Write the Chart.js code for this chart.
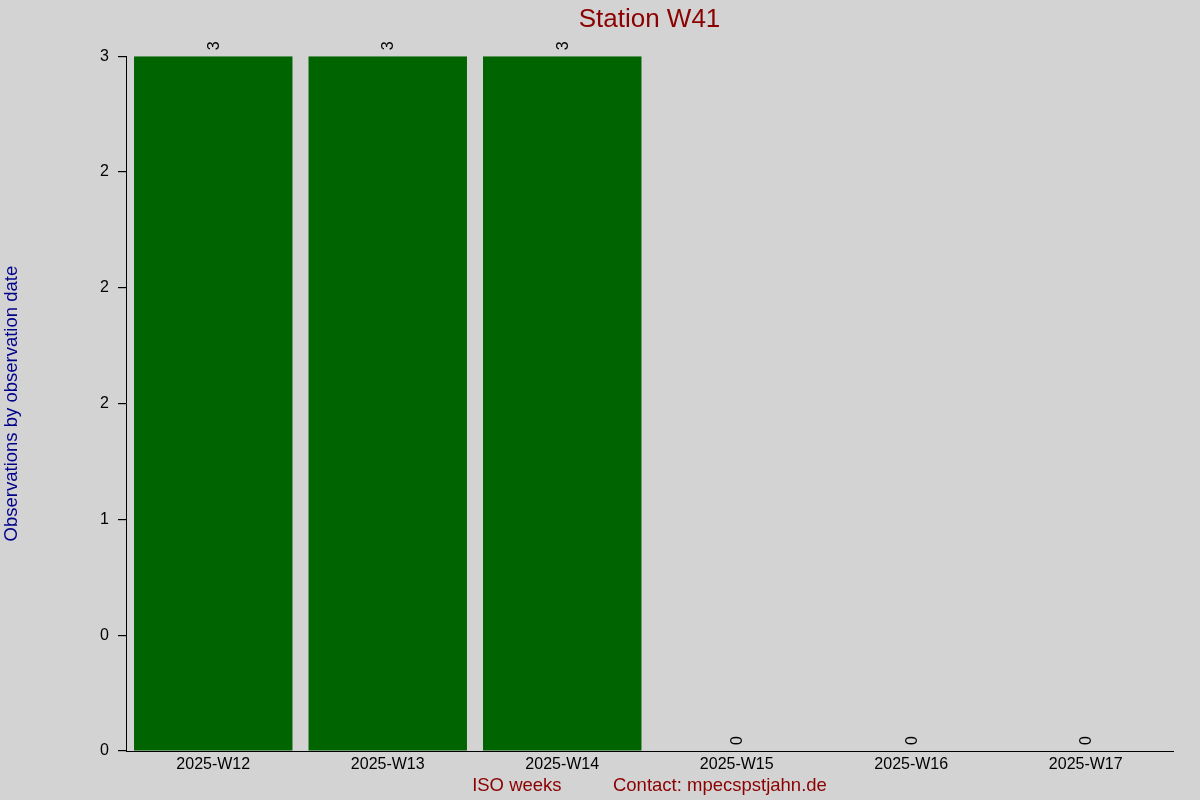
<!DOCTYPE html>
<html>
<head>
<meta charset="utf-8">
<script src="https://cdn.jsdelivr.net/npm/chart.js@4/dist/chart.umd.min.js"></script>
<style>
  body { margin: 0; background: #d3d3d3; }
  #wrap { width: 1200px; height: 800px; }
</style>
</head>
<body>
<div id="wrap"><canvas id="chart" width="1200" height="800"></canvas></div>
<script>
// data
const weeks = ['2025-W12', '2025-W13', '2025-W14', '2025-W15', '2025-W16', '2025-W17'];
const observations = [3, 3, 3, 0, 0, 0];
const yTickLabels = ['0', '0', '1', '2', '2', '2', '3'];

const FONT = 'Liberation Sans, Arial, sans-serif';

// value labels written vertically above each bar
const barLabels = {
    id: 'barLabels',
    afterDatasetsDraw(chart) {
        const ctx = chart.ctx;
        const meta = chart.getDatasetMeta(0);
        ctx.save();
        ctx.font = '16px ' + FONT;
        ctx.fillStyle = '#000';
        ctx.textAlign = 'left';
        ctx.textBaseline = 'middle';
        meta.data.forEach((bar, i) => {
            ctx.save();
            ctx.translate(bar.x + 1, bar.y - 6);
            ctx.rotate(-Math.PI / 2);
            ctx.fillText(String(observations[i]), 0, 0);
            ctx.restore();
        });
        ctx.restore();
    }
};

const chart = document.querySelector('#chart').getContext('2d');

new Chart(chart, {
    type: 'bar',
    data: {
        labels: weeks,
        datasets: [
            {
                label: 'Observations',
                data: observations,
                backgroundColor: '#006400',
                borderWidth: 0,
                categoryPercentage: 1,
                barPercentage: 0.908
            }
        ]
    },
    options: {
        responsive: false,
        animation: false,
        layout: { padding: { left: 1, right: 27 } },
        plugins: {
            legend: { display: false },
            tooltip: { enabled: false },
            title: {
                display: true,
                text: 'Station W41',
                color: '#8b0000',
                fullSize: false,
                font: { family: FONT, size: 26, weight: 'normal' },
                padding: { top: 4, bottom: 21 }
            }
        },
        scales: {
            x: {
                grid: { display: false, drawTicks: false },
                border: { display: true, color: '#000', width: 1 },
                ticks: {
                    color: '#000',
                    font: { family: FONT, size: 16 },
                    padding: 4,
                    maxRotation: 0,
                    autoSkip: false
                },
                title: {
                    display: true,
                    text: 'ISO weeks          Contact: mpecspstjahn.de',
                    color: '#8b0000',
                    font: { family: FONT, size: 18.5 },
                    padding: { top: 3, bottom: 3 }
                },
                afterFit(scale) { scale.height = 49; }
            },
            y: {
                min: 0,
                max: 3,
                grid: {
                    display: true,
                    drawOnChartArea: false,
                    drawTicks: true,
                    tickLength: 8,
                    lineWidth: 1.2,
                    color: '#000'
                },
                border: { display: true, color: '#000', width: 1 },
                ticks: {
                    stepSize: 0.5,
                    autoSkip: false,
                    color: '#000',
                    font: { family: FONT, size: 16 },
                    padding: 9,
                    callback: (value, index) => yTickLabels[index]
                },
                title: {
                    display: true,
                    text: 'Observations by observation date',
                    color: '#00008b',
                    font: { family: FONT, size: 18.5 },
                    padding: 0
                },
                afterFit(scale) { scale.width = 125; }
            }
        }
    },
    plugins: [barLabels]
});
</script>
</body>
</html>
